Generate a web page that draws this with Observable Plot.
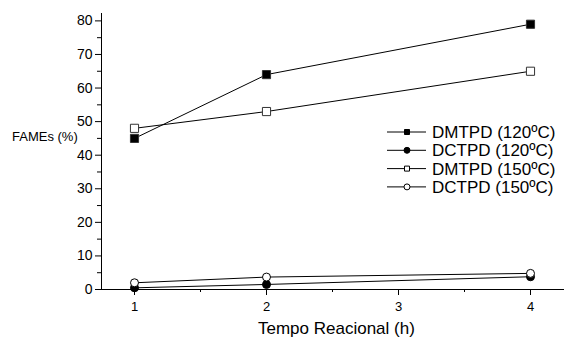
<!DOCTYPE html>
<html><head><meta charset="utf-8">
<script src="https://cdn.jsdelivr.net/npm/d3@7"></script>
<script src="https://cdn.jsdelivr.net/npm/@observablehq/plot@0.6"></script>
<style>
body{margin:0;background:#fff;font-family:"Liberation Sans",Arial,sans-serif;color:#000}
#wrap{position:relative;width:564px;height:340px}
.lab{position:absolute;white-space:nowrap;color:#000}
</style>
</head><body><div id="wrap"></div>
<script>
const hours = [1, 2, 4];
const seriesNames = ["DMTPD (120ºC)", "DCTPD (120ºC)", "DMTPD (150ºC)", "DCTPD (150ºC)"];
const dmtpd120 = [45, 64, 79];
const dctpd120 = [0.5, 1.5, 3.8];
const dmtpd150 = [48, 53, 65];
const dctpd150 = [2, 3.7, 4.8];
const symbols = ["square", "circle", "square", "circle"];
const fills = ["black", "black", "white", "white"];
const xTicks = [1, 2, 3, 4];
const xMinor = [1.5, 2.5, 3.5];
const yTicks = [0, 10, 20, 30, 40, 50, 60, 70, 80];
const yMinor = [5, 15, 25, 35, 45, 55, 65, 75];
const xTitle = "Tempo Reacional (h)";
const yTitle = "FAMEs (%)";

const allValues = [dmtpd120, dctpd120, dmtpd150, dctpd150];
const data = [];
allValues.forEach((vals, i) => vals.forEach((v, j) => data.push({series: seriesNames[i], idx: i, x: hours[j], y: v})));

const chart = Plot.plot({
  width: 564, height: 340,
  marginLeft: 101, marginRight: 1, marginTop: 13, marginBottom: 51,
  style: {fontFamily: '"Liberation Sans", Arial, sans-serif', color: "black", background: "white"},
  x: {domain: [0.75, 4.25]},
  y: {domain: [0, 82.2]},
  marks: [
    Plot.frame({anchor: "left", stroke: "black"}),
    Plot.frame({anchor: "bottom", stroke: "black"}),
    Plot.axisY({ticks: yTicks, tickSize: 6, tickPadding: 3, fontSize: 14, tickFormat: d3.format("d"), label: null}),
    Plot.axisY({ticks: yMinor, tickSize: 4, tickFormat: () => "", label: null}),
    Plot.axisX({ticks: xTicks, tickSize: 6, tickPadding: 6, fontSize: 13, tickFormat: d3.format("d"), label: null}),
    Plot.axisX({ticks: xMinor, tickSize: 3, tickFormat: () => "", label: null}),
    Plot.line(data, {x: "x", y: "y", z: "series", stroke: "black", strokeWidth: 1}),
    Plot.dot(data.filter(d => symbols[d.idx] === "square"), {x: "x", y: "y", symbol: "square", r: 4.6, stroke: "#333", strokeWidth: 1, fill: d => fills[d.idx]}),
    Plot.dot(data.filter(d => symbols[d.idx] === "circle"), {x: "x", y: "y", symbol: "circle", r: 4, stroke: "black", strokeWidth: 1, fill: d => fills[d.idx]})
  ]
});
const wrap = document.getElementById("wrap");
wrap.appendChild(chart);

const yl = document.createElement("div");
yl.className = "lab"; yl.textContent = yTitle;
yl.style.cssText += "left:12px;top:129px;font-size:13px;";
wrap.appendChild(yl);

const xl = document.createElement("div");
xl.className = "lab"; xl.textContent = xTitle;
xl.style.cssText += "left:258px;top:319px;font-size:17px;";
wrap.appendChild(xl);

// legend
const lg = d3.select(wrap).append("svg")
  .attr("width", 180).attr("height", 80)
  .style("position", "absolute").style("left", "384px").style("top", "122px");
seriesNames.forEach((name, i) => {
  const g = lg.append("g").attr("transform", `translate(0,${10 + i * 18.3})`);
  g.append("line").attr("x1", 3).attr("x2", 42).attr("y1", 0).attr("y2", 0).attr("stroke", "black");
  const sym = d3.symbol(symbols[i] === "square" ? d3.symbolSquare : d3.symbolCircle, symbols[i] === "square" ? 25 : 28);
  g.append("path").attr("d", sym()).attr("transform", "translate(23,0)")
    .attr("fill", fills[i]).attr("stroke", "black").attr("stroke-width", 1);
  g.append("text").attr("x", 48).attr("y", 6).attr("font-size", 17)
    .attr("font-family", '"Liberation Sans", Arial, sans-serif').text(name);
});
</script>
</body></html>
